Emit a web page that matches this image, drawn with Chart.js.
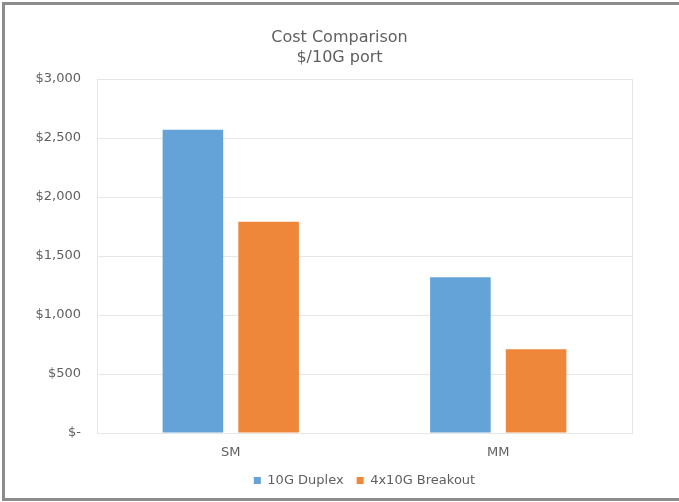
<!DOCTYPE html>
<html>
<head>
<meta charset="utf-8">
<script src="https://cdn.jsdelivr.net/npm/chart.js@4/dist/chart.umd.min.js"></script>
<style>
  html, body { margin: 0; padding: 0; background: #ffffff; overflow: hidden; }
  canvas { display: block; }
</style>
</head>
<body>
<canvas id="chart" width="679" height="502"></canvas>
<script>
// Fibre type categories and per-port cost of each optic option
const categories = ['SM', 'MM'];
const seriesNames = ['10G Duplex', '4x10G Breakout'];
const duplexCost = [2570, 1320];
const breakoutCost = [1790, 710];
const titleLines = ['Cost Comparison', '$/10G port'];

const textColor = '#5f5f5f';
const gridColor = '#e6e6e6';
const frameColor = '#8c8c8c';
const fontFamily = '"DejaVu Sans", "Liberation Sans", Arial, sans-serif';

// Grey frame along the left, top and bottom of the picture
const pictureFrame = {
  id: 'pictureFrame',
  beforeDraw(chart) {
    const { ctx, width, height } = chart;
    ctx.save();
    ctx.fillStyle = frameColor;
    ctx.fillRect(2, 2, 3, height - 3);
    ctx.fillRect(2, 2, width - 2, 3);
    ctx.fillRect(2, height - 4, width - 2, 3);
    ctx.restore();
  }
};

// Outline around the plot area
const plotBorder = {
  id: 'plotBorder',
  afterDraw(chart) {
    const { ctx, chartArea: a } = chart;
    ctx.save();
    ctx.strokeStyle = gridColor;
    ctx.lineWidth = 1;
    ctx.strokeRect(Math.round(a.left) + 0.5, Math.round(a.top) + 0.5,
                   Math.round(a.right - a.left), Math.round(a.bottom - a.top));
    ctx.restore();
  }
};

new Chart(document.getElementById('chart'), {
  type: 'bar',
  data: {
    labels: categories,
    datasets: [
      { label: seriesNames[0], data: duplexCost, backgroundColor: '#64a3d8' },
      { label: seriesNames[1], data: breakoutCost, backgroundColor: '#ee8739' }
    ]
  },
  options: {
    responsive: false,
    animation: false,
    devicePixelRatio: 1,
    categoryPercentage: 0.566,
    barPercentage: 0.8,
    layout: { padding: { left: 0, right: 0, top: 0, bottom: 5 } },
    plugins: {
      title: {
        display: true,
        text: titleLines,
        color: textColor,
        font: { family: fontFamily, size: 16, weight: 'normal', lineHeight: 1.25 },
        padding: { top: 28, bottom: 11 }
      },
      legend: {
        position: 'bottom',
        fullSize: false,
        labels: {
          color: textColor,
          font: { family: fontFamily, size: 13 },
          boxWidth: 7,
          boxHeight: 7,
          padding: 13
        }
      },
      tooltip: { enabled: false }
    },
    scales: {
      x: {
        grid: { display: false, drawTicks: false },
        border: { display: false },
        ticks: { color: textColor, font: { family: fontFamily, size: 13 }, padding: 12 },
        afterFit(scale) { scale.height = 28; }
      },
      y: {
        min: 0,
        max: 3000,
        grid: { color: gridColor, drawTicks: false },
        border: { display: false },
        ticks: {
          stepSize: 500,
          padding: 16,
          color: textColor,
          font: { family: fontFamily, size: 13 },
          callback: v => v === 0 ? '$-' : '$' + v.toLocaleString('en-US')
        },
        afterFit(scale) { scale.width = 97; }
      },
      // empty margin on the right of the plot area
      yRight: {
        position: 'right',
        display: true,
        grid: { display: false, drawTicks: false },
        border: { display: false },
        ticks: { display: false },
        afterFit(scale) { scale.width = 47; }
      }
    }
  },
  plugins: [pictureFrame, plotBorder]
});
</script>
</body>
</html>
